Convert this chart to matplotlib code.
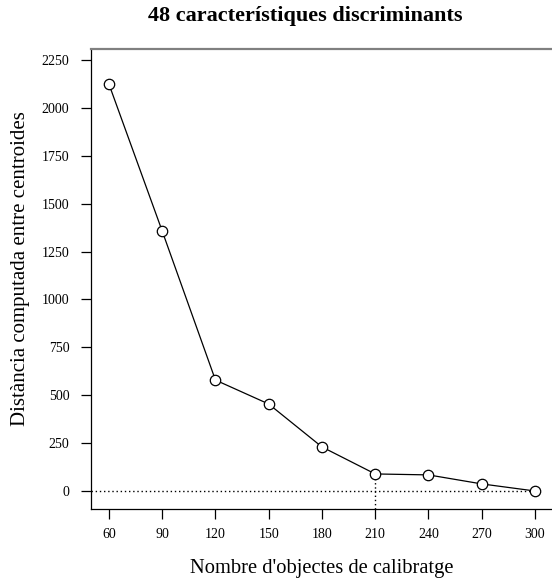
import matplotlib
matplotlib.use("Agg")
import matplotlib.pyplot as plt

# Calibration set size vs. computed distance between centroids
n_objects = [60, 90, 120, 150, 180, 210, 240, 270, 300]
distance = [2124, 1357, 579, 454, 230, 89, 84, 37, 0]
x_ticks = [60, 90, 120, 150, 180, 210, 240, 270, 300]
y_ticks = [0, 250, 500, 750, 1000, 1250, 1500, 1750, 2000, 2250]
chosen_n = 210

plt.rcParams["font.family"] = ["Liberation Serif", "DejaVu Serif"]

fig = plt.figure(figsize=(5.52, 5.81), dpi=100)
ax = fig.add_axes([91 / 552, 72 / 581, 1 - 91 / 552, 460 / 581])

ax.set_xlim(49.9, 309.6)
ax.set_ylim(-94, 2307)

ax.plot(n_objects, distance, color="black", lw=0.9, marker="o", ms=7.5,
        mfc="white", mec="black", mew=0.9, zorder=3)

# reference lines at zero distance and at the chosen set size
ax.plot([49.9, n_objects[-1]], [0, 0], color="black", lw=1.0, ls=(0, (1, 2)), zorder=2)
ax.plot([chosen_n, chosen_n], [-94, distance[n_objects.index(chosen_n)]],
        color="black", lw=1.0, ls=(0, (1, 2)), zorder=2)

ax.set_xticks(x_ticks)
ax.set_yticks(y_ticks)
ax.tick_params(axis="both", direction="out", length=7, width=0.9, labelsize=10,
               colors="black")
ax.tick_params(axis="x", pad=7)
ax.tick_params(axis="y", pad=8.5)

ax.spines["right"].set_visible(False)
ax.spines["top"].set_color("#808080")
ax.spines["top"].set_linewidth(1.6)
for s in ("left", "bottom"):
    ax.spines[s].set_linewidth(0.9)
    ax.spines[s].set_color("black")

fig.text(305 / 552, 1 - 16 / 581, "48 característiques discriminants",
         ha="center", va="center", fontsize=16, fontweight="bold")
fig.text(322 / 552, 1 - 568 / 581, "Nombre d'objectes de calibratge",
         ha="center", va="center", fontsize=14.8)
fig.text(21 / 552, 1 - 269 / 581, "Distància computada entre centroides",
         ha="center", va="center", rotation=90, fontsize=15)

fig.savefig("out.png", dpi=100)
